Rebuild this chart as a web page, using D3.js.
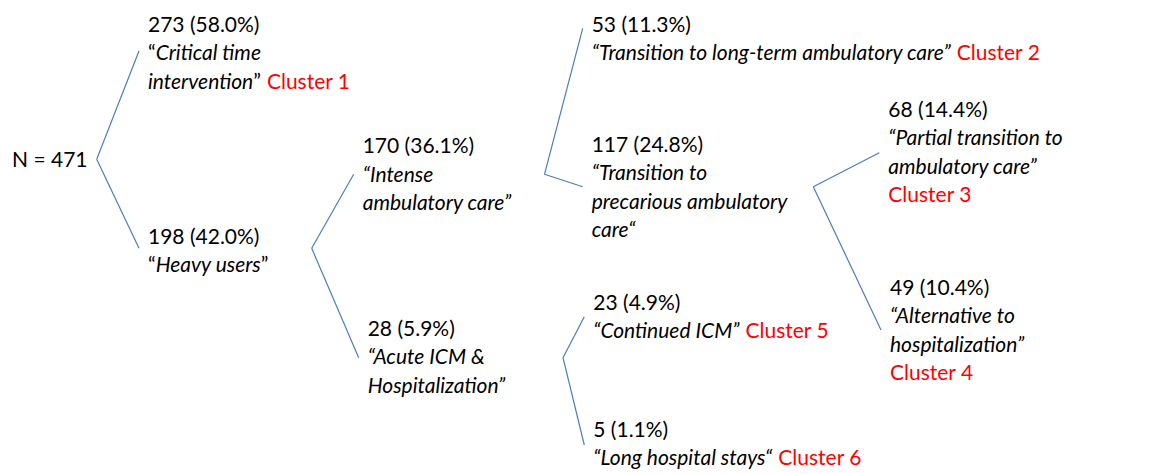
<!DOCTYPE html>
<html>
<head>
<meta charset="utf-8">
<script src="https://cdn.jsdelivr.net/npm/d3@7"></script>
<style>
  html, body { margin: 0; padding: 0; background: #fff; }
  svg text { font-family: Lato, "Open Sans", sans-serif; fill: #000; }
</style>
</head>
<body>
<div id="tree"></div>
<script>
// --- DATA ---
const TOTAL = 471;
const nodeIds   = ['root', 'n273', 'n198', 'n170', 'n28', 'n53', 'n117', 'n23', 'n5', 'n68', 'n49'];
const parentIds = [null, 'root', 'root', 'n198', 'n198', 'n170', 'n170', 'n28', 'n28', 'n117', 'n117'];
const counts    = [471, 273, 198, 170, 28, 53, 117, 23, 5, 68, 49];
const labels = [
  [],
  ['Critical time', 'intervention'],
  ['Heavy users'],
  ['Intense', 'ambulatory care'],
  ['Acute ICM &', 'Hospitalization'],
  ['Transition to long-term ambulatory care'],
  ['Transition to', 'precarious ambulatory', 'care'],
  ['Continued ICM'],
  ['Long hospital stays'],
  ['Partial transition to', 'ambulatory care'],
  ['Alternative to', 'hospitalization']
];
const clusters  = [null, 1, null, null, null, 2, null, 5, 6, 3, 4];
// closing quote as typed in the original (some use the low/opening style)
const closeQuotes = ['', '\u201D', '\u201D', '\u201D', '\u201D', '\u201D', '\u201C', '\u201D', '\u201C', '\u201D', '\u201D'];

// --- LAYOUT (hand placed, like the slide) ---
const width = 1149, height = 474;
const lineHeight = 28.4;
const lineGap = 9;          // space between a branch end and its text
const layout = {
  root: { textX: 12,    textY: 167,   anchorY: 159.3, vertexX: 96.7 },
  n273: { textX: 148,   textY: 31.7,  anchorY: 51 },
  n198: { textX: 148,   textY: 244,   anchorY: 248.3, vertexX: 311.7 },
  n170: { textX: 362.7, textY: 153.3, anchorY: 174.3, vertexX: 544.5 },
  n28:  { textX: 367.7, textY: 336,   anchorY: 357.7, vertexX: 563 },
  n53:  { textX: 591.7, textY: 31.7,  anchorY: 28.3 },
  n117: { textX: 591.7, textY: 151.7, anchorY: 186.7, vertexX: 813.3 },
  n23:  { textX: 593.3, textY: 310,   anchorY: 316.7 },
  n5:   { textX: 593.3, textY: 436.7, anchorY: 445 },
  n68:  { textX: 888.3, textY: 116.7, anchorY: 152.7, clusterBreak: true },
  n49:  { textX: 890,   textY: 295,   anchorY: 330,   clusterBreak: true }
};
const uprightQuotes = new Set(['n273', 'n198']);

const fontSize = 21;
const lineColor = '#4a7ebb';
const clusterColor = '#ff0000';
const formatPct = d3.format('.1%');

// --- BUILD HIERARCHY ---
const table = nodeIds.map((id, i) => ({
  id: id,
  parent: parentIds[i],
  n: counts[i],
  label: labels[i],
  cluster: clusters[i],
  closeQuote: closeQuotes[i]
}));
const root = d3.stratify().id(d => d.id).parentId(d => d.parent)(table);

// --- SVG SETUP ---
const svg = d3.select('#tree')
  .append('svg')
  .attr('width', width)
  .attr('height', height);

// --- BRANCHES ---
const branch = d3.line();
svg.append('g')
  .attr('class', 'links')
  .selectAll('path')
  .data(root.links())
  .enter()
  .append('path')
  .attr('d', d => {
    const p = layout[d.source.id], c = layout[d.target.id];
    return branch([[p.vertexX, p.anchorY], [c.textX - lineGap, c.anchorY]]);
  })
  .attr('fill', 'none')
  .attr('stroke', lineColor)
  .attr('stroke-width', 1.2);

// --- NODE LABELS ---
const node = svg.append('g')
  .attr('class', 'nodes')
  .selectAll('text')
  .data(root.descendants())
  .enter()
  .append('text')
  .attr('x', d => layout[d.id].textX)
  .attr('y', d => layout[d.id].textY)
  .style('font-size', fontSize + 'px');

node.each(function(d) {
  const t = d3.select(this);
  const L = layout[d.id];
  if (!d.parent) {
    t.text(`N = ${d.data.n}`);
    return;
  }
  // first line: count and share
  t.append('tspan')
    .attr('x', L.textX)
    .text(`${d.data.n} (${formatPct(d.data.n / TOTAL)})`);

  const lines = d.data.label;
  const italicQuote = !uprightQuotes.has(d.id);
  lines.forEach((line, i) => {
    const row = t.append('tspan')
      .attr('x', L.textX)
      .attr('dy', lineHeight);
    if (i === 0) {
      row.append('tspan')
        .style('font-style', italicQuote ? 'italic' : 'normal')
        .text('\u201C');
    }
    row.append('tspan')
      .style('font-style', 'italic')
      .text(line);
    if (i === lines.length - 1) {
      row.append('tspan')
        .style('font-style', italicQuote ? 'italic' : 'normal')
        .text(d.data.closeQuote);
    }
  });

  if (d.data.cluster != null) {
    const c = t.append('tspan').style('fill', clusterColor);
    if (L.clusterBreak) {
      c.attr('x', L.textX).attr('dy', lineHeight);
    } else {
      c.attr('dx', 6);
    }
    c.text(`Cluster ${d.data.cluster}`);
  }
});
</script>
</body>
</html>
